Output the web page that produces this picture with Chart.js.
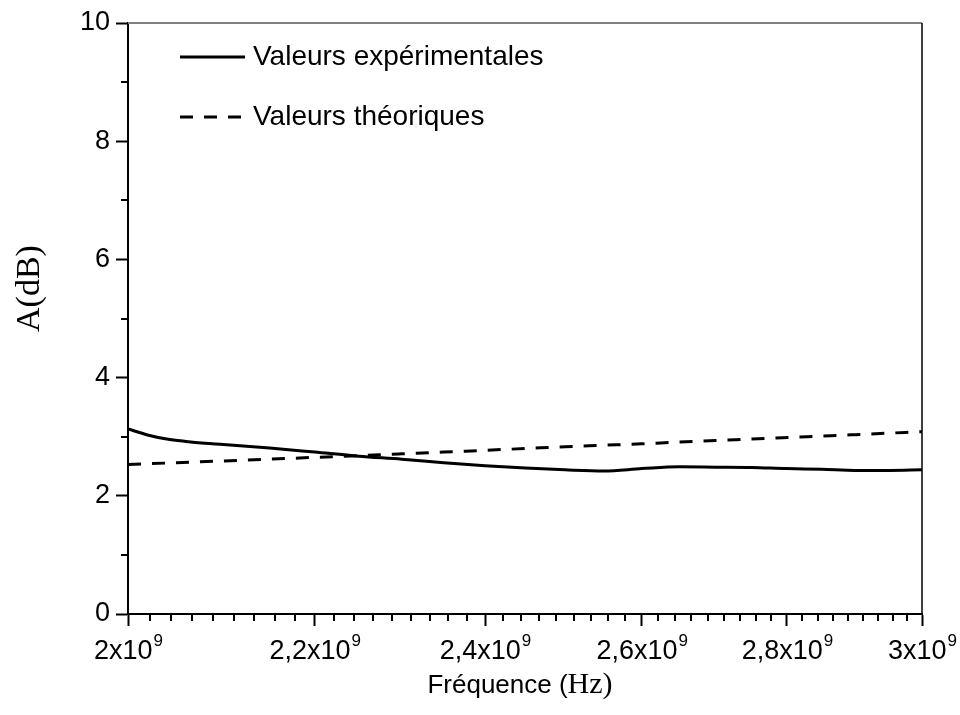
<!DOCTYPE html>
<html>
<head>
<meta charset="utf-8">
<script src="https://cdn.jsdelivr.net/npm/chart.js@4"></script>
<style>
  html, body { margin: 0; padding: 0; background: #fff; }
  #wrap { width: 960px; height: 715px; }
</style>
</head>
<body>
<div id="wrap"><canvas id="c" width="960" height="715"></canvas></div>
<script>
// Measured attenuation (dB) versus frequency (Hz)
const freqExp = [2.00e9, 2.02e9, 2.04e9, 2.06e9, 2.08e9, 2.10e9, 2.15e9, 2.20e9, 2.25e9, 2.30e9,
                 2.35e9, 2.40e9, 2.45e9, 2.50e9, 2.55e9, 2.60e9, 2.65e9, 2.70e9, 2.75e9, 2.80e9,
                 2.85e9, 2.90e9, 2.95e9, 3.00e9];
const ampExp  = [3.13, 3.03, 2.96, 2.92, 2.89, 2.87, 2.81, 2.74, 2.67, 2.62,
                 2.56, 2.51, 2.47, 2.44, 2.42, 2.46, 2.49, 2.485, 2.48, 2.46,
                 2.45, 2.43, 2.43, 2.44];

// Theoretical attenuation (dB)
const freqTheo = [2.00e9, 2.05e9, 2.10e9, 2.15e9, 2.20e9, 2.25e9, 2.30e9, 2.35e9, 2.40e9, 2.45e9,
                  2.50e9, 2.55e9, 2.60e9, 2.65e9, 2.70e9, 2.75e9, 2.80e9, 2.85e9, 2.90e9, 2.95e9, 3.00e9];
const ampTheo  = [2.53, 2.56, 2.59, 2.62, 2.65, 2.68, 2.71, 2.74, 2.77, 2.80,
                  2.83, 2.855, 2.88, 2.91, 2.935, 2.96, 2.985, 3.01, 3.035, 3.06, 3.085];

const seriesNames = ['Valeurs expérimentales', 'Valeurs théoriques'];

// Axis ticks
const xMajorTicks = [2.0e9, 2.2e9, 2.4e9, 2.6e9, 2.8e9, 3.0e9];
const xTickMantissa = ['2', '2,2', '2,4', '2,6', '2,8', '3'];
const xTickExponent = '9';
const yMajorTicks = [0, 2, 4, 6, 8, 10];
const yMinorTicks = [1, 3, 5, 7, 9];

const xTitleParts = ['Fréquence (', 'Hz)'];
const yTitle = 'A(dB)';

const SANS = '"Liberation Sans", Arial, sans-serif';
const SERIF = '"Liberation Serif", "Times New Roman", serif';

function pairs(xs, ys) { return xs.map((x, i) => ({ x: x, y: ys[i] })); }

// Axis decorations: minor ticks, frame, tick labels with exponents, titles, legend
const decorations = {
  id: 'decorations',
  afterDraw(chart) {
    const ctx = chart.ctx;
    const xs = chart.scales.x, ys = chart.scales.y;
    const a = chart.chartArea;
    ctx.save();

    // top and right frame
    ctx.strokeStyle = '#808080';
    ctx.lineWidth = 2;
    ctx.beginPath(); ctx.moveTo(a.left, a.top); ctx.lineTo(a.right, a.top); ctx.stroke();
    ctx.strokeStyle = '#000';
    ctx.lineWidth = 1.5;
    ctx.beginPath(); ctx.moveTo(a.right, a.top); ctx.lineTo(a.right, a.bottom); ctx.stroke();

    // minor ticks
    ctx.lineWidth = 2;
    ctx.strokeStyle = '#000';
    const minorLen = 7;
    yMinorTicks.forEach(v => {
      const y = Math.round(ys.getPixelForValue(v));
      ctx.beginPath(); ctx.moveTo(a.left - minorLen, y); ctx.lineTo(a.left, y); ctx.stroke();
    });
    for (let i = 0; i < xMajorTicks.length - 1; i++) {
      const lo = xMajorTicks[i], hi = xMajorTicks[i + 1];
      for (let k = 1; k < 9; k++) {
        const x = Math.round(xs.getPixelForValue(lo + (hi - lo) * k / 9));
        ctx.beginPath(); ctx.moveTo(x, a.bottom); ctx.lineTo(x, a.bottom + minorLen); ctx.stroke();
      }
    }

    // x tick labels: mantissa + "x10" with superscript exponent
    ctx.fillStyle = '#000';
    ctx.textBaseline = 'alphabetic';
    ctx.textAlign = 'left';
    const mainFont = '27px ' + SANS, supFont = '17px ' + SANS;
    xMajorTicks.forEach((v, i) => {
      const base = xTickMantissa[i] + 'x10';
      ctx.font = mainFont;
      const w1 = ctx.measureText(base).width;
      ctx.font = supFont;
      const w2 = ctx.measureText(xTickExponent).width;
      const x0 = xs.getPixelForValue(v) - (w1 + w2) / 2;
      const yb = a.bottom + 45;
      ctx.font = mainFont;
      ctx.fillText(base, x0, yb);
      ctx.font = supFont;
      ctx.fillText(xTickExponent, x0 + w1 + 1, yb - 13);
    });

    // x title, mixed fonts
    const f1 = '26px ' + SANS, f2 = '30px ' + SERIF;
    ctx.font = f1; const t1 = ctx.measureText(xTitleParts[0]).width;
    ctx.font = f2; const t2 = ctx.measureText(xTitleParts[1]).width;
    const tx = (a.left + a.right) / 2 - 5 - (t1 + t2) / 2;
    const ty = a.bottom + 79;
    ctx.font = f1; ctx.fillText(xTitleParts[0], tx, ty);
    ctx.font = f2; ctx.fillText(xTitleParts[1], tx + t1, ty);

    // y title, rotated
    ctx.save();
    ctx.translate(30, (a.top + a.bottom) / 2 - 30);
    ctx.rotate(-Math.PI / 2);
    ctx.font = '34px ' + SERIF;
    ctx.textAlign = 'center';
    ctx.textBaseline = 'middle';
    ctx.fillText(yTitle, 0, 0);
    ctx.restore();

    // legend
    const lx = a.left + 52, lw = 65;
    const rows = [a.top + 34, a.top + 94];
    chart.data.datasets.forEach((ds, i) => {
      const y = rows[i];
      ctx.strokeStyle = ds.borderColor;
      ctx.lineWidth = ds.borderWidth;
      ctx.setLineDash(ds.borderDash || []);
      ctx.beginPath(); ctx.moveTo(lx, y); ctx.lineTo(lx + lw, y); ctx.stroke();
      ctx.setLineDash([]);
      ctx.font = '28px ' + SANS;
      ctx.textBaseline = 'middle';
      ctx.textAlign = 'left';
      ctx.fillStyle = '#000';
      ctx.fillText(ds.label, lx + lw + 8, y);
    });

    ctx.restore();
  }
};

new Chart(document.getElementById('c'), {
  type: 'line',
  data: {
    datasets: [
      {
        label: seriesNames[0],
        data: pairs(freqExp, ampExp),
        borderColor: '#000',
        borderWidth: 3,
        pointRadius: 0,
        cubicInterpolationMode: 'monotone',
        fill: false
      },
      {
        label: seriesNames[1],
        data: pairs(freqTheo, ampTheo),
        borderColor: '#000',
        borderWidth: 3,
        borderDash: [13, 11],
        pointRadius: 0,
        cubicInterpolationMode: 'monotone',
        fill: false
      }
    ]
  },
  options: {
    responsive: false,
    animation: false,
    events: [],
    layout: { padding: { top: 23, right: 38, left: 0, bottom: 0 } },
    plugins: { legend: { display: false }, tooltip: { enabled: false } },
    scales: {
      x: {
        type: 'logarithmic',
        min: 2.0e9,
        max: 3.0e9,
        afterBuildTicks: s => { s.ticks = xMajorTicks.map(v => ({ value: v })); },
        afterFit: s => { s.height = 101; },
        ticks: { display: false, autoSkip: false },
        grid: { display: true, drawOnChartArea: false, drawTicks: true, tickLength: 12, tickWidth: 2, tickColor: '#000' },
        border: { display: true, width: 2, color: '#000' }
      },
      y: {
        type: 'linear',
        min: 0,
        max: 10,
        afterBuildTicks: s => { s.ticks = yMajorTicks.map(v => ({ value: v })); },
        afterFit: s => { s.width = 128; },
        ticks: { color: '#000', font: { family: SANS, size: 27 }, padding: 6 },
        grid: { display: true, drawOnChartArea: false, drawTicks: true, tickLength: 12, tickWidth: 2, tickColor: '#000' },
        border: { display: true, width: 2, color: '#000' }
      }
    }
  },
  plugins: [decorations]
});
</script>
</body>
</html>
